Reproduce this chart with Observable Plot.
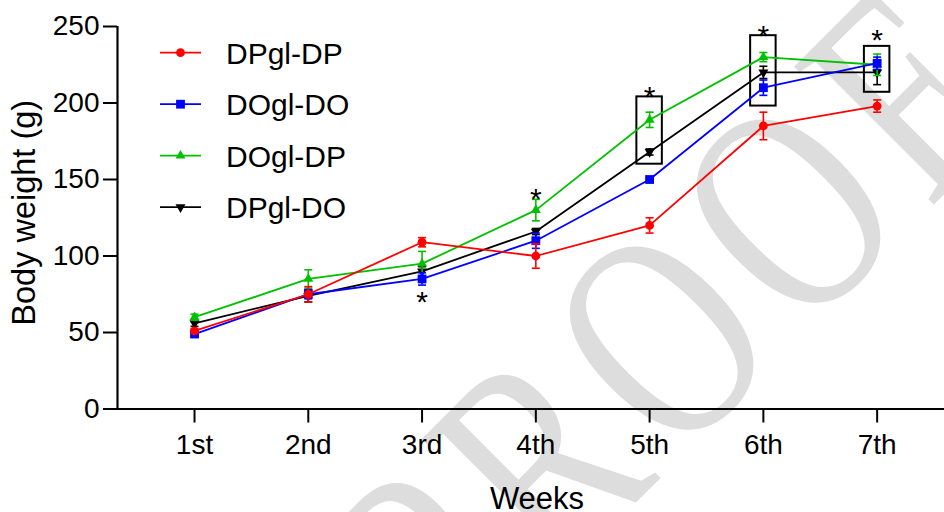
<!DOCTYPE html>
<html>
<head>
<meta charset="utf-8">
<script src="https://cdn.jsdelivr.net/npm/d3@7"></script>
<script src="https://cdn.jsdelivr.net/npm/@observablehq/plot@0.6"></script>
<style>
  html, body { margin: 0; padding: 0; background: #fff; }
  #chart { width: 944px; height: 512px; }
</style>
</head>
<body>
<div id="chart"></div>
<script>
// ---- data ----
const weeks = [1, 2, 3, 4, 5, 6, 7];
const weekLabels = ["1st", "2nd", "3rd", "4th", "5th", "6th", "7th"];
const yTicks = [0, 50, 100, 150, 200, 250];

const seriesNames = ["DPgl-DP", "DOgl-DO", "DOgl-DP", "DPgl-DO"];
const seriesColors = ["#ff0000", "#0000ff", "#00c000", "#000000"];

const dpglDP      = [51, 75, 109, 100, 120, 185, 198];
const dpglDPErr   = [1.5, 5, 3, 8, 5, 9, 4];
const doglDO      = [49, 75, 85, 110, 150, 210, 226];
const doglDOErr   = [1.5, 3, 4, 5, 1, 5, 4];
const doglDP      = [60, 85, 95, 130, 189, 230, 225];
const doglDPErr   = [2, 6, 8, 7, 5, 3, 7];
const dpglDO      = [56, 74, 90, 116, 168, 220, 220];
const dpglDOErr   = [2, 4, 3, 2, 2, 4, 8];

const seriesValues = [dpglDP, doglDO, doglDP, dpglDO];
const seriesErrors = [dpglDPErr, doglDOErr, doglDPErr, dpglDOErr];

// significance annotations
const starWeeks  = [3, 4, 5, 6, 7];
const starValues = [75, 142, 209, 249, 246];
const boxWeeks = [5, 6, 7];
const boxLow   = [160, 198, 207];
const boxHigh  = [204, 244, 237];

const watermarkText = "PROOF";

// ---- build tables ----
const drawOrder = [3, 2, 1, 0]; // red drawn last (on top)
const rows = [];
for (const s of drawOrder) {
  weeks.forEach((w, i) => rows.push({
    series: seriesNames[s], color: seriesColors[s], idx: s,
    week: w, value: seriesValues[s][i], err: seriesErrors[s][i]
  }));
}
const stars = starWeeks.map((w, i) => ({week: w, value: starValues[i]}));
const boxes = boxWeeks.map((w, i) => ({week: w, lo: boxLow[i], hi: boxHigh[i]}));

// ---- symbols ----
const circleSym = {draw(ctx) { ctx.moveTo(4.4, 0); ctx.arc(0, 0, 4.4, 0, 2 * Math.PI); }};
const squareSym = {draw(ctx) { const h = 4.4; ctx.rect(-h, -h, 2 * h, 2 * h); }};
const triUpSym = {draw(ctx) { const s = 10, hh = s * Math.sqrt(3) / 2; ctx.moveTo(0, -hh * 2 / 3); ctx.lineTo(s / 2, hh / 3); ctx.lineTo(-s / 2, hh / 3); ctx.closePath(); }};
const triDownSym = {draw(ctx) { const s = 10, hh = s * Math.sqrt(3) / 2; ctx.moveTo(0, hh * 2 / 3); ctx.lineTo(s / 2, -hh / 3); ctx.lineTo(-s / 2, -hh / 3); ctx.closePath(); }};
const capSym = {draw(ctx) { ctx.moveTo(-4, 0); ctx.lineTo(4, 0); }};
const seriesSymbols = [circleSym, squareSym, triUpSym, triDownSym];

const FONT = "'Liberation Sans', Arial, Helvetica, sans-serif";

// watermark as a render-function mark (condensed serif, rotated)
function watermarkMark(index, scales, values, dimensions) {
  const g = d3.create("svg:g")
    .attr("transform", `translate(${dimensions.marginLeft + 551},${dimensions.marginTop + 296}) rotate(-45) scale(0.74,1)`);
  g.append("text")
    .attr("x", 0).attr("y", 105)
    .attr("text-anchor", "middle")
    .attr("font-family", "'Liberation Serif', 'Times New Roman', serif")
    .attr("font-size", 300)
    .attr("letter-spacing", 26)
    .attr("fill", "#dddddd")
    .text(watermarkText);
  return g.node();
}

// legend as a render-function mark
function legendMark(index, scales, values, dimensions) {
  const g = d3.create("svg:g");
  const x0 = dimensions.marginLeft + 43;
  const y0 = dimensions.marginTop + 26.7;
  const step = 51.5;
  seriesNames.forEach((name, i) => {
    const y = y0 + i * step;
    g.append("line").attr("x1", x0).attr("x2", x0 + 41).attr("y1", y).attr("y2", y)
      .attr("stroke", seriesColors[i]).attr("stroke-width", 1.8);
    g.append("path").attr("transform", `translate(${x0 + 20.5},${y})`)
      .attr("d", d3.symbol(seriesSymbols[i])()).attr("fill", seriesColors[i]);
    g.append("text").attr("x", x0 + 66).attr("y", y).attr("dy", "0.36em")
      .attr("text-anchor", "start")
      .attr("font-size", 30).attr("font-family", FONT).attr("fill", "#000").text(name);
  });
  return g.node();
}

const chart = Plot.plot({
  width: 944,
  height: 512,
  marginLeft: 117,
  marginRight: 0,
  marginTop: 26,
  marginBottom: 103.5,
  style: {fontFamily: FONT, fontSize: "28px", color: "#000", background: "#fff"},
  x: {domain: [0.323, 7.592]},
  y: {domain: [0, 250]},
  marks: [
    watermarkMark,
    Plot.axisX({ticks: weeks, tickFormat: d => weekLabels[d - 1], tickSize: 14, tickPadding: 11,
      strokeWidth: 2, fontSize: 28, label: null}),
    Plot.axisY({ticks: yTicks, tickSize: 14, tickPadding: 4, strokeWidth: 2, fontSize: 28, label: null}),
    Plot.ruleY([0], {stroke: "#000", strokeWidth: 2.2}),
    Plot.ruleX([0.323], {stroke: "#000", strokeWidth: 2.2}),
    Plot.text(["Weeks"], {frameAnchor: "bottom", dx: 6, dy: 77.5, lineAnchor: "top", fontSize: 31}),
    Plot.text(["Body weight (g)"], {frameAnchor: "left", dx: -106, dy: -5, rotate: -90,
      lineAnchor: "top", textAnchor: "middle", fontSize: 32.5}),
    // significance boxes
    Plot.rect(boxes, {x1: d => d.week - 0.112, x2: d => d.week + 0.112, y1: "lo", y2: "hi",
      fill: "none", stroke: "#000", strokeWidth: 2}),
    // series (line, error bars, caps, markers)
    ...drawOrder.flatMap(s => {
      const data = rows.filter(r => r.idx === s);
      const c = seriesColors[s];
      return [
        Plot.line(data, {x: "week", y: "value", stroke: c, strokeWidth: 1.8}),
        Plot.ruleX(data, {x: "week", y1: d => d.value - d.err, y2: d => d.value + d.err, stroke: c, strokeWidth: 1.6}),
        Plot.dot(data, {x: "week", y: d => d.value - d.err, symbol: capSym, r: 3, fill: "none", stroke: c, strokeWidth: 1.6}),
        Plot.dot(data, {x: "week", y: d => d.value + d.err, symbol: capSym, r: 3, fill: "none", stroke: c, strokeWidth: 1.6}),
        Plot.dot(data, {x: "week", y: "value", symbol: seriesSymbols[s], r: 3, fill: c, stroke: "none"})
      ];
    }),
    Plot.text(stars, {x: "week", y: "value", text: () => "*", fontSize: 30, dy: 8, fill: "#000"}),
    legendMark
  ]
});
document.getElementById("chart").appendChild(chart);
</script>
</body>
</html>
